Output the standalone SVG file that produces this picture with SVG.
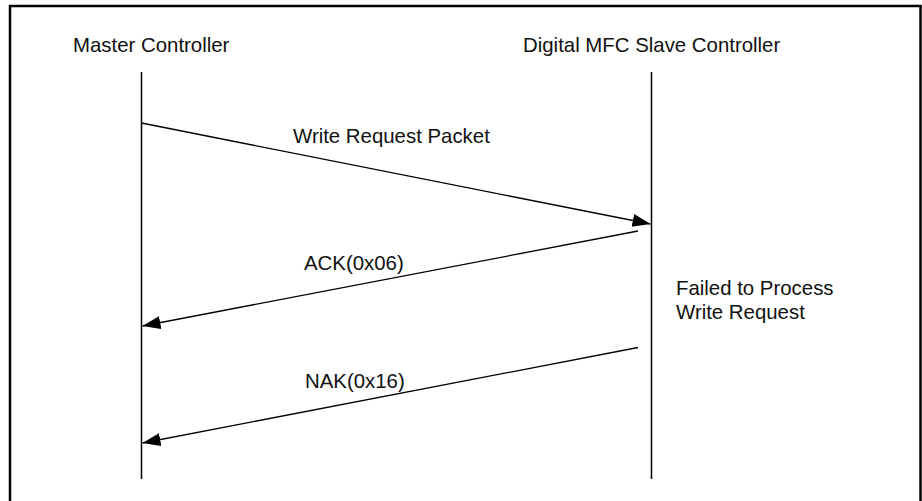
<svg xmlns="http://www.w3.org/2000/svg" width="922" height="501" viewBox="0 0 922 501">
<style>
text{font-family:"Liberation Sans",Arial,sans-serif;font-size:20.4px;fill:#111}
.life{stroke:#000;stroke-width:1.5;fill:none}
.msg{stroke:#000;stroke-width:1.3;fill:none}
</style>
<defs>
<marker id="ah" markerUnits="userSpaceOnUse" markerWidth="20" markerHeight="14" refX="18" refY="6.5" orient="auto">
<path d="M0,0 L18,6.5 L0,13 Z" fill="#000"/>
</marker>
</defs>
<rect x="10" y="6" width="910.5" height="510" fill="#fff" stroke="#000" stroke-width="2.5"/>
<g id="master">
<text x="73" y="52">Master Controller</text>
<line class="life" x1="141.5" y1="72" x2="141.5" y2="479"/>
</g>
<g id="slave">
<text x="523" y="52">Digital MFC Slave Controller</text>
<line class="life" x1="651.5" y1="72" x2="651.5" y2="479"/>
</g>
<g id="note">
<text x="676" y="295">Failed to Process</text>
<text x="676" y="319">Write Request</text>
</g>
<g id="connectors">
<line class="msg" x1="141.5" y1="123" x2="650.5" y2="224" marker-end="url(#ah)"/>
<text x="293" y="143">Write Request Packet</text>
<line class="msg" x1="638" y1="231" x2="142.5" y2="326" marker-end="url(#ah)"/>
<text x="304" y="270">ACK(0x06)</text>
<line class="msg" x1="638" y1="347.5" x2="142.5" y2="443" marker-end="url(#ah)"/>
<text x="305" y="388">NAK(0x16)</text>
</g>
</svg>
